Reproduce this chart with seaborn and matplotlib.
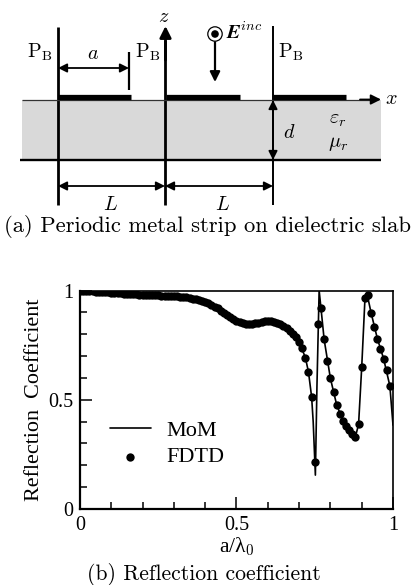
import matplotlib
matplotlib.use("Agg")
import matplotlib.pyplot as plt
import pandas as pd
import seaborn as sns
from matplotlib.patches import Rectangle, Circle
from matplotlib.ticker import MultipleLocator

sns.set_theme(style="white")
plt.rcParams['mathtext.fontset'] = 'cm'
plt.rcParams['axes.formatter.use_mathtext'] = True
plt.rcParams['font.family'] = ['Liberation Serif', 'DejaVu Serif']

fdtd_x = [0.00,0.01,0.02,0.03,0.04,0.05,0.06,0.07,0.08,0.09,
          0.10,0.11,0.12,0.13,0.14,0.15,0.16,0.17,0.18,0.19,
          0.20,0.21,0.22,0.23,0.24,0.25,0.26,0.27,0.28,0.29,
          0.30,0.31,0.32,0.33,0.34,0.35,0.36,0.37,0.38,0.39,
          0.40,0.41,0.42,0.43,0.44,0.45,0.46,0.47,0.48,0.49,
          0.50,0.51,0.52,0.53,0.54,0.55,0.56,0.57,0.58,0.59,
          0.60,0.61,0.62,0.63,0.64,0.65,0.66,0.67,0.68,0.69,
          0.70,0.71,0.72,0.73,0.74,0.75,0.76,0.77,0.78,0.79,
          0.80,0.81,0.82,0.83,0.84,0.85,0.86,0.87,0.88,0.89,
          0.90,0.91,0.92,0.93,0.94,0.95,0.96,0.97,0.98,0.99]
fdtd_y = [.998,.998,.997,.997,.996,.995,.994,.993,.992,.991,
          .990,.989,.988,.987,.986,.985,.984,.983,.982,.981,
          .980,.980,.979,.979,.978,.978,.977,.977,.976,.975,
          .974,.973,.972,.970,.968,.966,.963,.960,.957,.953,
          .947,.941,.934,.926,.918,.908,.898,.888,.878,.868,
          .860,.854,.850,.847,.846,.847,.850,.853,.857,.860,
          .862,.861,.858,.852,.845,.836,.827,.815,.800,.786,
          .766,.735,.693,.627,.513,.217,.847,.918,.776,.679,
          .598,.534,.477,.435,.404,.380,.360,.345,.331,.387,
          .648,.967,.979,.898,.831,.780,.733,.688,.635,.563]

mom_x = [0.00,0.10,0.20,0.30,0.34,0.38,0.42,0.46,0.50,0.53,0.56,0.60,0.64,0.68,
         0.70,0.72,0.73,0.74,0.745,0.752,0.757,0.764,0.77,0.78,0.80,0.82,0.84,
         0.86,0.88,0.89,0.90,0.91,0.917,0.93,0.95,0.97,0.99,1.00]
mom_y = [.998,.990,.980,.974,.968,.957,.934,.898,.860,.847,.850,.862,.845,.800,
         .766,.693,.627,.513,.400,.155,.560,1.00,.918,.776,.598,.477,.404,
         .360,.331,.387,.648,.950,.985,.898,.780,.688,.563,.384]

series_labels = ["MoM", "FDTD"]
x_label = "a/λ$_0$"
y_label = "Reflection  Coefficient"
caption_a = "(a) Periodic metal strip on dielectric slab"
caption_b = "(b) Reflection coefficient"

W, H = 414, 585
fig = plt.figure(figsize=(W/100, H/100), dpi=100, facecolor="white")
ax = fig.add_axes([80/W, 1-509/H, 313/W, 218.5/H])

mom = pd.DataFrame({"x": mom_x, "y": mom_y})
fdtd = pd.DataFrame({"x": fdtd_x, "y": fdtd_y})
sns.lineplot(data=mom, x="x", y="y", ax=ax, color="black", lw=1.2, label=series_labels[0],
             sort=False, estimator=None)
sns.scatterplot(data=fdtd, x="x", y="y", ax=ax, color="black", s=36, edgecolor="black",
                linewidth=0, label=series_labels[1], zorder=3)

ax.set_xlim(0, 1)
ax.set_ylim(0, 1)
ax.set_xticks([0, 0.5, 1])
ax.set_yticks([0, 0.5, 1])
ax.set_xticklabels(["0", "0.5", "1"])
ax.set_yticklabels(["0", "0.5", "1"])
ax.xaxis.set_minor_locator(MultipleLocator(0.1))
ax.yaxis.set_minor_locator(MultipleLocator(0.1))
ax.tick_params(which="major", direction="in", length=8.5, width=1.1, labelsize=14.5,
               color="black", labelcolor="black", pad=5, bottom=True, left=True)
ax.tick_params(which="minor", direction="in", length=5, width=1.1, color="black",
               bottom=True, left=True)
for s in ax.spines.values():
    s.set_color("black")
    s.set_linewidth(1.2)
ax.spines["left"].set_linewidth(1.6)
ax.spines["bottom"].set_linewidth(1.6)
ax.set_xlabel(x_label, fontsize=15.5, color="black", labelpad=0)
ax.set_ylabel(y_label, fontsize=15.9, color="black", labelpad=3)
leg = ax.legend(loc="lower left", bbox_to_anchor=(0.095, 0.19), frameon=False, fontsize=16,
                handlelength=1.85, handletextpad=0.7, labelspacing=0.28, borderpad=0, borderaxespad=0)
for t in leg.get_texts():
    t.set_color("black")

# Schematic overlay, laid out in figure pixels
d = fig.add_axes([0, 0, 1, 1], facecolor="none")
d.set_xlim(0, W)
d.set_ylim(H, 0)
d.axis("off")

d.add_patch(Rectangle((22, 99.5), 359, 60.5, fc="#d9d9d9", ec="none", zorder=1))

def vline(x, y0, y1, lw):
    d.plot([x, x], [y0, y1], color="black", lw=lw, solid_capstyle="butt", zorder=3)

def hline(x0, x1, y, lw, color="black"):
    d.plot([x0, x1], [y, y], color=color, lw=lw, solid_capstyle="butt", zorder=3)

def arrow(p0, p1, style="-|>", lw=1.3, ms=13):
    d.annotate("", xy=p1, xytext=p0, zorder=4,
               arrowprops=dict(arrowstyle=style, color="black", lw=lw, mutation_scale=ms,
                               shrinkA=0, shrinkB=0))

vline(58, 27, 205, 2.0)
vline(165.5, 40, 205, 2.0)
vline(273, 26, 205, 1.4)
vline(129, 52, 90, 1.6)
hline(20, 381, 160, 1.7)
hline(22, 370, 99.5, 0.9, "#333333")
for x0, x1 in [(58, 131), (166, 240), (273, 346)]:
    hline(x0, x1, 97, 3.8)

arrow((165.5, 60), (165.5, 26), lw=2.0, ms=17)
arrow((360, 99.5), (381, 99.5), lw=1.3, ms=15)
arrow((215, 42), (215, 82), lw=1.6, ms=15)
arrow((58, 68), (129, 68), "<|-|>")
arrow((273, 100), (273, 160), "<|-|>")
arrow((58, 186), (165, 186), "<|-|>")
arrow((165, 186), (273, 186), "<|-|>")

d.add_patch(Circle((215, 34), 7.2, fc="white", ec="black", lw=0.9, zorder=4))
d.add_patch(Circle((215, 34), 3.8, fc="black", ec="none", zorder=5))

def tx(x, y, s, fs=14, family="cmr10"):
    d.text(x, y, s, ha="center", va="center", fontsize=fs, color="black", family=family, zorder=6)

for x in (40, 148, 291):
    tx(x, 52, r"$\mathrm{P_B}$", 14.5)
tx(93, 54, r"$a$", 14.5)
tx(164, 17, r"$z$", 14.5)
tx(244, 32, r"$\boldsymbol{E}^{inc}$", 14.5)
tx(391, 99, r"$x$", 14.5)
tx(289, 133, r"$d$", 14.5)
tx(338, 120, r"$\varepsilon_r$", 14.5)
tx(338, 144, r"$\mu_r$", 14.5)
tx(111, 205, r"$L$", 14.5)
tx(223, 205, r"$L$", 14.5)
tx(207.5, 226, caption_a, 16.3)
tx(204, 574, caption_b, 15.6)

fig.savefig("out.png", dpi=100, facecolor="white")
